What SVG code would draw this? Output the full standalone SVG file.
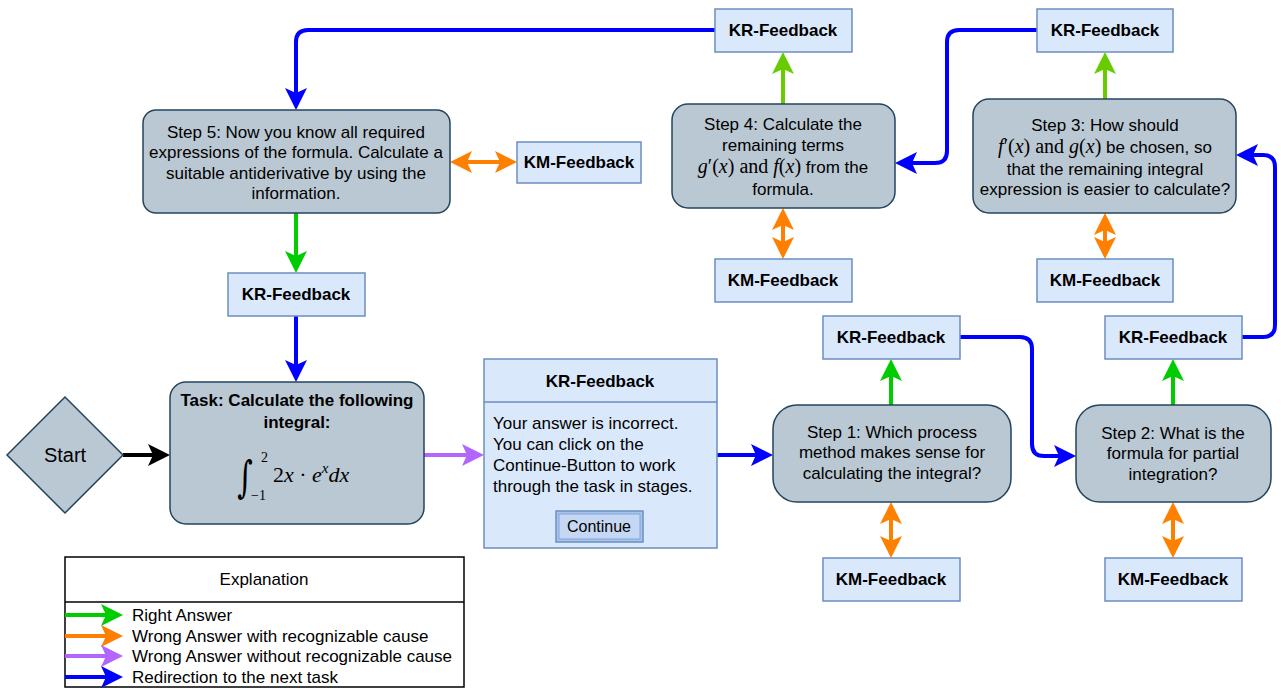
<svg xmlns="http://www.w3.org/2000/svg" width="1281" height="689" viewBox="0 0 1281 689">
<style>
.step{fill:#bac8d3;stroke:#23445d;stroke-width:1.5}
.fb{fill:#dae8fc;stroke:#6c8ebf;stroke-width:1.5}
.t{font-family:"Liberation Sans",Arial,sans-serif;font-size:17px;fill:#000}
.c{text-anchor:middle}
.b{font-weight:bold}
.m{font-family:"Liberation Serif","Times New Roman",serif;font-style:italic;font-size:20px}
.mu{font-family:"Liberation Serif","Times New Roman",serif;font-style:normal;font-size:20px}
.big .m,.big.mu{font-size:22px}
.e{fill:none;stroke-width:4}
.blue{stroke:#0000ff}.green{stroke:#00cc00}.lime{stroke:#66cc00}.orange{stroke:#ff8000}.purple{stroke:#b266ff}.black{stroke:#000}
</style>
<defs>
<marker id="aBlue" markerUnits="userSpaceOnUse" markerWidth="22" markerHeight="22" viewBox="0 0 22 22" refX="6" refY="11" orient="auto-start-reverse"><path d="M0,0 L22,11 L0,22 L5,11 Z" fill="#0000ff"/></marker>
<marker id="aGreen" markerUnits="userSpaceOnUse" markerWidth="22" markerHeight="22" viewBox="0 0 22 22" refX="6" refY="11" orient="auto-start-reverse"><path d="M0,0 L22,11 L0,22 L5,11 Z" fill="#00cc00"/></marker>
<marker id="aLime" markerUnits="userSpaceOnUse" markerWidth="22" markerHeight="22" viewBox="0 0 22 22" refX="6" refY="11" orient="auto-start-reverse"><path d="M0,0 L22,11 L0,22 L5,11 Z" fill="#66cc00"/></marker>
<marker id="aOrange" markerUnits="userSpaceOnUse" markerWidth="22" markerHeight="22" viewBox="0 0 22 22" refX="6" refY="11" orient="auto-start-reverse"><path d="M0,0 L22,11 L0,22 L5,11 Z" fill="#ff8000"/></marker>
<marker id="aPurple" markerUnits="userSpaceOnUse" markerWidth="22" markerHeight="22" viewBox="0 0 22 22" refX="6" refY="11" orient="auto-start-reverse"><path d="M0,0 L22,11 L0,22 L5,11 Z" fill="#b266ff"/></marker>
<marker id="aBlack" markerUnits="userSpaceOnUse" markerWidth="22" markerHeight="22" viewBox="0 0 22 22" refX="6" refY="11" orient="auto-start-reverse"><path d="M0,0 L22,11 L0,22 L5,11 Z" fill="#000"/></marker>
</defs>
<rect width="1281" height="689" fill="#fff"/>

<g id="connectors">
<path class="e black" d="M123,455 H154" marker-end="url(#aBlack)"/>
<path class="e purple" d="M424,455 H468" marker-end="url(#aPurple)"/>
<path class="e blue" d="M717,455 H757" marker-end="url(#aBlue)"/>
<path class="e green" d="M891,405 V375" marker-end="url(#aGreen)"/>
<path class="e orange" d="M891,518 V542" marker-start="url(#aOrange)" marker-end="url(#aOrange)"/>
<path class="e blue" d="M960,337 H1020 Q1032,337 1032,349 V444 Q1032,456 1044,456 H1060" marker-end="url(#aBlue)"/>
<path class="e green" d="M1173,405 V375" marker-end="url(#aGreen)"/>
<path class="e orange" d="M1173,518 V542" marker-start="url(#aOrange)" marker-end="url(#aOrange)"/>
<path class="e blue" d="M1242,337 H1263 Q1275,337 1275,325 V167 Q1275,155 1263,155 H1252" marker-end="url(#aBlue)"/>
<path class="e lime" d="M1105,99 V68" marker-end="url(#aLime)"/>
<path class="e orange" d="M1105,229 V243" marker-start="url(#aOrange)" marker-end="url(#aOrange)"/>
<path class="e blue" d="M1037,30 H959 Q947,30 947,42 V151 Q947,163 935,163 H911" marker-end="url(#aBlue)"/>
<path class="e lime" d="M783,104 V68" marker-end="url(#aLime)"/>
<path class="e orange" d="M783,224 V243" marker-start="url(#aOrange)" marker-end="url(#aOrange)"/>
<path class="e blue" d="M715,30 H308 Q296,30 296,42 V94" marker-end="url(#aBlue)"/>
<path class="e orange" d="M466,162 H501" marker-start="url(#aOrange)" marker-end="url(#aOrange)"/>
<path class="e green" d="M296,213 V257" marker-end="url(#aGreen)"/>
<path class="e blue" d="M296,316 V366" marker-end="url(#aBlue)"/>
</g>

<g id="start">
<polygon class="step" points="7,455 65,397 123,455 65,513"/>
<text class="t c" x="65" y="462" style="font-size:20px">Start</text>
</g>

<g id="task">
<rect class="step" x="170" y="382" width="254" height="142" rx="16"/>
<text class="t c" x="297" y="406" font-weight="bold">Task: Calculate the following</text>
<text class="t c" x="297" y="428" font-weight="bold">integral:</text>
<text x="245" y="492" transform="translate(245,492) scale(1,1.45) translate(-245,-492)" style="font-family:'DejaVu Serif',serif;font-size:30px;text-anchor:middle">∫</text>
<text class="mu" x="261" y="462" style="font-size:14px">2</text>
<text class="mu" x="251" y="500" style="font-size:14px">−1</text>
<text class="mu" x="273" y="482" style="font-size:22px">2<tspan class="m" style="font-size:22px">x</tspan> · <tspan class="m" style="font-size:22px">e</tspan><tspan class="m" dy="-9" style="font-size:15px">x</tspan><tspan class="m" dy="9" style="font-size:22px">dx</tspan></text>
</g>

<g id="kr-main">
<rect class="fb" x="484" y="359" width="233" height="189"/>
<line x1="484" y1="402" x2="717" y2="402" stroke="#6c8ebf" stroke-width="1.5"/>
<text class="t c b" x="600" y="387">KR-Feedback</text>
<text class="t" x="493" y="429">Your answer is incorrect.</text>
<text class="t" x="493" y="450">You can click on the</text>
<text class="t" x="493" y="471">Continue-Button to work</text>
<text class="t" x="493" y="492">through the task in stages.</text>
<rect x="556" y="511" width="87" height="31" fill="#a9c4eb" stroke="#6c8ebf" stroke-width="1.5"/>
<rect x="559" y="514" width="81" height="25" fill="#c5d7f2" stroke="#7ea6e0" stroke-width="1"/>
<text class="t c" x="599" y="532" style="font-size:16px">Continue</text>
</g>

<g id="step1">
<rect class="step" x="773" y="405" width="238" height="97" rx="24"/>
<text class="t c" x="892" y="438">Step 1: Which process</text>
<text class="t c" x="892" y="458">method makes sense for</text>
<text class="t c" x="892" y="479">calculating the integral?</text>
</g>
<g id="kr1"><rect class="fb" x="823" y="316" width="137" height="43"/><text class="t c b" x="891" y="343">KR-Feedback</text></g>
<g id="km1"><rect class="fb" x="823" y="558" width="137" height="43"/><text class="t c b" x="891" y="585">KM-Feedback</text></g>

<g id="step2">
<rect class="step" x="1076" y="405" width="195" height="97" rx="24"/>
<text class="t c" x="1173" y="439">Step 2: What is the</text>
<text class="t c" x="1173" y="459">formula for partial</text>
<text class="t c" x="1173" y="480">integration?</text>
</g>
<g id="kr2"><rect class="fb" x="1105" y="316" width="137" height="43"/><text class="t c b" x="1173" y="343">KR-Feedback</text></g>
<g id="km2"><rect class="fb" x="1105" y="558" width="137" height="43"/><text class="t c b" x="1173" y="585">KM-Feedback</text></g>

<g id="step3">
<rect class="step" x="973" y="99" width="263" height="114" rx="16"/>
<text class="t c" x="1105" y="131">Step 3: How should</text>
<text class="t c" x="1105" y="153"><tspan class="m">f</tspan><tspan class="mu">′(</tspan><tspan class="m">x</tspan><tspan class="mu">) and </tspan><tspan class="m">g</tspan><tspan class="mu">(</tspan><tspan class="m">x</tspan><tspan class="mu">)</tspan> be chosen, so</text>
<text class="t c" x="1105" y="175">that the remaining integral</text>
<text class="t c" x="1105" y="195">expression is easier to calculate?</text>
</g>
<g id="kr3"><rect class="fb" x="1037" y="9" width="136" height="43"/><text class="t c b" x="1105" y="36">KR-Feedback</text></g>
<g id="km3"><rect class="fb" x="1037" y="259" width="136" height="43"/><text class="t c b" x="1105" y="286">KM-Feedback</text></g>

<g id="step4">
<rect class="step" x="672" y="104" width="223" height="104" rx="16"/>
<text class="t c" x="783" y="130">Step 4: Calculate the</text>
<text class="t c" x="783" y="151">remaining terms</text>
<text class="t c" x="783" y="173"><tspan class="m">g</tspan><tspan class="mu">′(</tspan><tspan class="m">x</tspan><tspan class="mu">) and </tspan><tspan class="m">f</tspan><tspan class="mu">(</tspan><tspan class="m">x</tspan><tspan class="mu">)</tspan> from the</text>
<text class="t c" x="783" y="195">formula.</text>
</g>
<g id="kr4"><rect class="fb" x="715" y="9" width="137" height="43"/><text class="t c b" x="783" y="36">KR-Feedback</text></g>
<g id="km4"><rect class="fb" x="715" y="259" width="137" height="43"/><text class="t c b" x="783" y="286">KM-Feedback</text></g>

<g id="step5">
<rect class="step" x="143" y="110" width="307" height="103" rx="13"/>
<text class="t c" x="296" y="138">Step 5: Now you know all required</text>
<text class="t c" x="296" y="158">expressions of the formula. Calculate a</text>
<text class="t c" x="296" y="179">suitable antiderivative by using the</text>
<text class="t c" x="296" y="199">information.</text>
</g>
<g id="km5"><rect class="fb" x="517" y="142" width="124" height="41"/><text class="t c b" x="579" y="168">KM-Feedback</text></g>
<g id="kr5"><rect class="fb" x="228" y="273" width="137" height="43"/><text class="t c b" x="296" y="300">KR-Feedback</text></g>

<g id="legend">
<rect x="65" y="557" width="399" height="130" fill="#fff" stroke="#000" stroke-width="1.5"/>
<line x1="65" y1="602" x2="464" y2="602" stroke="#000" stroke-width="1.5"/>
<text class="t c" x="264" y="585">Explanation</text>
<path class="e green" d="M65,615 H107" marker-end="url(#aGreen)"/>
<path class="e orange" d="M65,636 H107" marker-end="url(#aOrange)"/>
<path class="e purple" d="M65,656 H107" marker-end="url(#aPurple)"/>
<path class="e blue" d="M65,677 H107" marker-end="url(#aBlue)"/>
<text class="t" x="132" y="621">Right Answer</text>
<text class="t" x="132" y="642">Wrong Answer with recognizable cause</text>
<text class="t" x="132" y="662">Wrong Answer without recognizable cause</text>
<text class="t" x="132" y="683">Redirection to the next task</text>
</g>
</svg>
